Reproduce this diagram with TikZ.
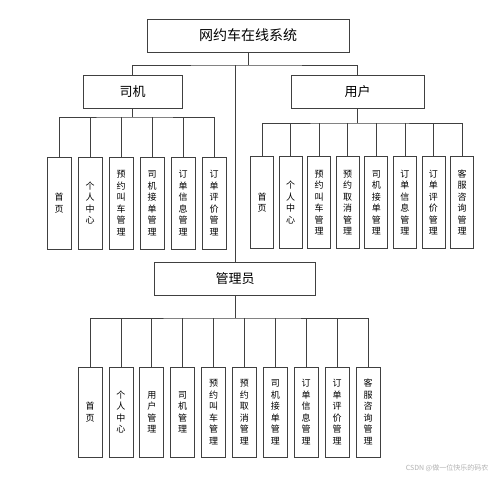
\documentclass[tikz,border=0pt]{standalone}
\usepackage{fontspec}
\setmainfont{Noto Sans CJK SC}
\usepackage{tikz}
\usetikzlibrary{positioning}

\begin{document}
\begin{tikzpicture}[x=1pt,y=-1pt,line width=0.7pt,draw=black!75,
    top node/.style={rectangle,draw,minimum width=202pt,minimum height=33pt,font=\fontsize{14}{16}\selectfont},
    role node/.style={rectangle,draw,minimum height=33pt,font=\fontsize{13}{15}\selectfont},
    leaf node/.style={rectangle,draw,inner sep=0pt,align=center,minimum height=92pt,font=\fontsize{9}{11.5}\selectfont}]

   \useasboundingbox[fill=white] (0,0) rectangle (500,480);

   \begin{scope}

    % top levels
    \node[top node] (sys) at (248,35.5) {网约车在线系统};
    \node[role node,minimum width=99pt] (driver) at (132.5,91.5) {司机};
    \node[role node,minimum width=133pt] (user) at (357.5,91.5) {用户};
    \node[role node,minimum width=161pt] (admin) at (235,278.5) {管理员};

    \coordinate (topbus) at (248,65);
    \coordinate (dbus) at (132.5,117);
    \coordinate (ubus) at (357.5,123);
    \coordinate (abus) at (235,318);

    % driver
    \node[leaf node,minimum width=24pt] (d1) at (59,203) {首\\页};
    \node[leaf node,minimum width=24pt] (d2) at (90,203) {个\\人\\中\\心};
    \node[leaf node,minimum width=24pt] (d3) at (121,203) {预\\约\\叫\\车\\管\\理};
    \node[leaf node,minimum width=24pt] (d4) at (152,203) {司\\机\\接\\单\\管\\理};
    \node[leaf node,minimum width=24pt] (d5) at (183,203) {订\\单\\信\\息\\管\\理};
    \node[leaf node,minimum width=24pt] (d6) at (214,203) {订\\单\\评\\价\\管\\理};

    % user
    \node[leaf node,minimum width=23pt] (u1) at (262,202.5) {首\\页};
    \node[leaf node,minimum width=23pt] (u2) at (290.6,202.5) {个\\人\\中\\心};
    \node[leaf node,minimum width=23pt] (u3) at (319.1,202.5) {预\\约\\叫\\车\\管\\理};
    \node[leaf node,minimum width=23pt] (u4) at (347.7,202.5) {预\\约\\取\\消\\管\\理};
    \node[leaf node,minimum width=23pt] (u5) at (376.3,202.5) {司\\机\\接\\单\\管\\理};
    \node[leaf node,minimum width=23pt] (u6) at (404.9,202.5) {订\\单\\信\\息\\管\\理};
    \node[leaf node,minimum width=23pt] (u7) at (433.4,202.5) {订\\单\\评\\价\\管\\理};
    \node[leaf node,minimum width=23pt] (u8) at (462,202.5) {客\\服\\咨\\询\\管\\理};

    % admin
    \node[leaf node,minimum width=24pt,minimum height=90pt] (a1) at (90,412) {首\\页};
    \node[leaf node,minimum width=24pt,minimum height=90pt] (a2) at (120.9,412) {个\\人\\中\\心};
    \node[leaf node,minimum width=24pt,minimum height=90pt] (a3) at (151.8,412) {用\\户\\管\\理};
    \node[leaf node,minimum width=24pt,minimum height=90pt] (a4) at (182.7,412) {司\\机\\管\\理};
    \node[leaf node,minimum width=24pt,minimum height=90pt] (a5) at (213.6,412) {预\\约\\叫\\车\\管\\理};
    \node[leaf node,minimum width=24pt,minimum height=90pt] (a6) at (244.4,412) {预\\约\\取\\消\\管\\理};
    \node[leaf node,minimum width=24pt,minimum height=90pt] (a7) at (275.3,412) {司\\机\\接\\单\\管\\理};
    \node[leaf node,minimum width=24pt,minimum height=90pt] (a8) at (306.2,412) {订\\单\\信\\息\\管\\理};
    \node[leaf node,minimum width=24pt,minimum height=90pt] (a9) at (337.1,412) {订\\单\\评\\价\\管\\理};
    \node[leaf node,minimum width=24pt,minimum height=90pt] (a10) at (368,412) {客\\服\\咨\\询\\管\\理};

    % links
    \draw (sys.south) -- (topbus);
    \draw (driver.north) |- (topbus) -| (user.north);
    \draw (admin.north) -- (admin.north |- topbus);

    \draw (driver.south) -- (dbus);
    \draw (d1.north) |- (dbus) -| (d6.north);
    \draw (d2.north) -- (d2.north |- dbus);
    \draw (d3.north) -- (d3.north |- dbus);
    \draw (d4.north) -- (d4.north |- dbus);
    \draw (d5.north) -- (d5.north |- dbus);

    \draw (user.south) -- (ubus);
    \draw (u1.north) |- (ubus) -| (u8.north);
    \draw (u2.north) -- (u2.north |- ubus);
    \draw (u3.north) -- (u3.north |- ubus);
    \draw (u4.north) -- (u4.north |- ubus);
    \draw (u5.north) -- (u5.north |- ubus);
    \draw (u6.north) -- (u6.north |- ubus);
    \draw (u7.north) -- (u7.north |- ubus);

    \draw (admin.south) -- (abus);
    \draw (a1.north) |- (abus) -| (a10.north);
    \draw (a2.north) -- (a2.north |- abus);
    \draw (a3.north) -- (a3.north |- abus);
    \draw (a4.north) -- (a4.north |- abus);
    \draw (a5.north) -- (a5.north |- abus);
    \draw (a6.north) -- (a6.north |- abus);
    \draw (a7.north) -- (a7.north |- abus);
    \draw (a8.north) -- (a8.north |- abus);
    \draw (a9.north) -- (a9.north |- abus);

    \node[text=black!30,font=\fontsize{7}{8}\selectfont,anchor=east] (mark) at (492,468) {CSDN @做一位快乐的码农};

   \end{scope}
  \end{tikzpicture}
\end{document}
